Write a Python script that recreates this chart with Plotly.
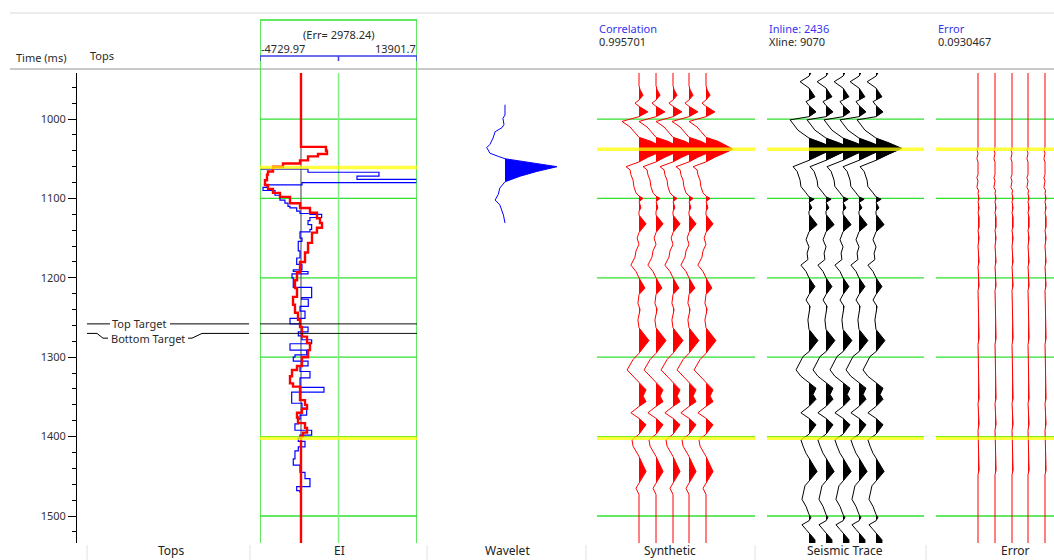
import plotly.graph_objects as go

W, H = 1054, 560
FONT = "Noto Sans"

# ---------------- values ----------------
GRID_TIMES = [1000, 1100, 1200, 1300, 1400, 1500]
TIME_TOP, TIME_BOTTOM = 942, 1534

TOP_NAMES = ["Top Target", "Bottom Target"]
TOP_TIMES = [1258, 1270]

HORIZONS_EI = [1061, 1402]
HORIZONS_TRACE = [1038, 1402]

EI_MIN, EI_MAX = -4729.97, 13901.7
EI_ERR = 2978.24
EI_REF_VALUE = 135
EI_REF_SPAN = [1035, 1400]

# blocked EI curve (time ms, EI)
EI_SMOOTH = [(942, 135), (1035, 3100), (1040, 3220), (1044, 2150), (1047, 970), (1052, 20),
             (1056, -2000), (1060, -3190), (1066, -3780), (1070, -3900), (1077, -4140),
             (1083, -3780), (1088, -3190), (1093, -2360), (1098, -1170), (1106, 20),
             (1112, 1200), (1118, 2030), (1125, 2390), (1131, 2630), (1137, 2030),
             (1143, 1440), (1156, 970), (1168, 610), (1180, 20), (1193, -340), (1203, -580),
             (1213, -340), (1224, -810), (1234, -580), (1244, -220), (1253, 20), (1262, 250),
             (1274, 850), (1282, 1200), (1291, 970), (1300, 250), (1311, -340), (1316, -930),
             (1324, -1170), (1333, -810), (1337, 20), (1354, 610), (1360, 850), (1365, 250),
             (1370, -340), (1376, -220), (1383, 610), (1389, 850), (1395, 370), (1400, 135),
             (1534, 135)]

# raw EI log (time ms, EI)
EI_LOG = [(1063, -4730), (1063, 966), (1067, 9390), (1072, 6780), (1076, 13900), (1080, 254),
          (1083, -3900), (1086, -4370), (1090, -2950), (1096, -2360), (1102, -1770),
          (1106, -1410), (1110, -1170), (1112, -375), (1116, 17), (1119, 1200), (1120, 2590),
          (1124, 1200), (1128, 970), (1133, 1400), (1139, 1200), (1142, 17), (1150, 250),
          (1154, -190), (1166, 17), (1175, -375), (1183, 250), (1190, -780), (1192, 970),
          (1195, -930), (1200, -780), (1212, 1400), (1225, 214), (1227, 1000), (1236, 17),
          (1242, 610), (1251, -1170), (1258, 17), (1262, 970), (1268, -185), (1273, 250),
          (1278, 1400), (1283, -1170), (1291, 810), (1297, -580), (1300, -780), (1305, 970),
          (1311, 17), (1318, 1200), (1326, 17), (1338, 2860), (1344, -970), (1358, 250),
          (1364, 810), (1373, 17), (1378, -185), (1384, -580), (1392, 1400), (1398, 17),
          (1402, -185), (1406, 610), (1413, -185), (1418, -580), (1428, -780), (1436, 17),
          (1445, 610), (1453, 1200), (1463, -375), (1468, 17), (1471, 17)]

# wavelet (lag ms, normalised amplitude)
WAVELET_CENTER = 1060
WAVELET = [(-78, 0), (-65, 0), (-61, -0.04), (-53, -0.02), (-49, -0.06), (-44, -0.19),
           (-36, -0.23), (-28, -0.29), (-24, -0.35), (-17, -0.29), (-13, -0.13), (-10, 0),
           (-5, 0.5), (0, 1.0), (6, 0.61), (12, 0.29), (19, 0), (27, -0.10), (35, -0.13),
           (42, -0.19), (48, -0.10), (55, -0.06), (61, -0.03), (71, 0)]

# synthetic trace (time ms, normalised amplitude)
SYNTHETIC = [(942, 0), (958, 0), (963, 0.04), (970, 0.15), (976, 0), (980, -0.15), (984, 0),
             (991, 0.33), (997, 0), (1003, -0.63), (1010, -0.33), (1018, -0.11), (1023, 0),
             (1028, 0.44), (1033, 0.74), (1038, 1.0), (1043, 0.67), (1048, 0.33), (1054, 0),
             (1060, -0.48), (1064, -0.33), (1070, -0.30), (1077, -0.22), (1085, -0.19),
             (1093, -0.11), (1097, 0), (1100, 0.15), (1104, 0), (1108, 0.04), (1112, 0.07),
             (1116, 0), (1121, 0), (1132, 0.26), (1143, 0), (1150, -0.07), (1158, 0),
             (1166, -0.11), (1174, -0.15), (1184, -0.30), (1192, -0.11), (1200, 0),
             (1213, 0.22), (1221, 0), (1232, -0.04), (1240, 0.04), (1253, -0.04), (1263, 0),
             (1279, 0.37), (1295, 0), (1303, -0.22), (1316, -0.44), (1324, -0.22), (1332, 0),
             (1341, 0.26), (1349, 0.15), (1356, 0.26), (1362, 0), (1370, -0.30), (1377, 0),
             (1385, 0.26), (1397, 0), (1404, -0.26), (1412, -0.22), (1418, -0.11), (1425, 0),
             (1444, 0.26), (1458, 0), (1465, -0.11), (1473, 0), (1534, 0)]

# seismic trace at the well (time ms, normalised amplitude)
SEISMIC = [(942, 0.07), (946, 0), (953, -0.33), (961, 0), (972, 0.22), (976, 0), (978, -0.11),
           (983, 0), (991, 0.26), (997, 0), (1001, -0.70), (1014, -0.41), (1020, -0.15),
           (1024, 0), (1030, 0.48), (1037, 0.96), (1044, 0.48), (1052, 0), (1060, -0.59),
           (1066, -0.44), (1077, -0.33), (1085, -0.30), (1093, -0.11), (1098, 0),
           (1101, 0.19), (1105, 0), (1112, 0.11), (1116, 0), (1120, 0), (1133, 0.30),
           (1142, 0), (1152, -0.11), (1161, 0), (1169, -0.07), (1177, -0.04), (1184, -0.30),
           (1192, -0.11), (1200, 0), (1211, 0.22), (1221, 0), (1228, -0.11), (1236, 0.04),
           (1253, -0.04), (1265, 0), (1279, 0.33), (1293, 0), (1299, -0.22), (1316, -0.48),
           (1324, -0.30), (1332, 0), (1339, 0.26), (1347, 0.15), (1353, 0.26), (1362, 0),
           (1370, -0.30), (1377, 0), (1385, 0.26), (1397, 0), (1404, -0.30), (1412, -0.22),
           (1421, -0.11), (1427, 0), (1444, 0.30), (1456, 0), (1462, -0.15), (1479, -0.26),
           (1488, -0.11), (1498, 0), (1502, 0.07), (1506, 0), (1511, -0.26), (1517, -0.11),
           (1521, 0), (1530, 0.22), (1534, 0.22)]

# residual error trace (time ms, normalised amplitude)
ERROR_TRACE = [(942, 0), (1036, 0), (1039, -0.04), (1043, 0), (1050, -0.04), (1054, 0),
               (1070, 0), (1074, -0.04), (1078, 0), (1086, -0.04), (1090, 0.02), (1094, 0),
               (1100, 0.04), (1104, 0), (1112, 0.04), (1118, 0), (1124, 0.04), (1136, 0.04),
               (1140, 0), (1150, 0.04), (1160, 0), (1180, 0.04), (1186, 0), (1210, 0.04),
               (1216, 0), (1276, 0.04), (1284, 0), (1338, 0.04), (1352, 0.04), (1358, 0),
               (1384, 0.04), (1392, 0), (1442, 0.04), (1448, 0), (1534, 0)]

CORRELATION = "0.995701"
INLINE, XLINE = 2436, 9070
ERROR_VALUE = "0.0930467"
PANEL_TITLES = ["Tops", "EI", "Wavelet", "Synthetic", "Seismic Trace", "Error"]

# ---------------- layout constants (pixels) ----------------
PLOT_TOP, PLOT_BOTTOM = 73, 543
TRACE_OFFSETS = [42, 59, 76, 92, 109]   # wiggle baselines inside a trace panel
TRACE_GAIN = 27                          # px for amplitude 1.0
WAVELET_BASE, WAVELET_GAIN = 77, 52

GREEN = "#2fe02f"
GREEN_LIGHT = "#84ee84"
YELLOW = "rgba(255,255,0,0.75)"
BLUE_TXT = "#3535f0"


def px(x):
    return x / W


def py(y):
    return 1 - y / H


def unzip(pairs):
    return [p[0] for p in pairs], [p[1] for p in pairs]


def positive_lobes(t, a):
    """Outline polygons of the positive parts of a wiggle (amplitude, time)."""
    pts = []
    for i in range(len(t)):
        if i:
            a0, a1 = a[i - 1], a[i]
            if (a0 > 0) != (a1 > 0) and a0 != a1:
                tc = t[i - 1] + (t[i] - t[i - 1]) * a0 / (a0 - a1)
                pts.append((0.0, tc))
        pts.append((max(a[i], 0.0), t[i]))
    xs, ys, run = [], [], []
    last_zero = (0.0, pts[0][1])
    for x, y in pts:
        if x > 0:
            if not run:
                run.append(last_zero)
            run.append((x, y))
        else:
            if run:
                run.append((0.0, y))
                xs += [p[0] for p in run] + [None]
                ys += [p[1] for p in run] + [None]
                run = []
            last_zero = (0.0, y)
    if run:
        run.append((0.0, run[-1][1]))
        xs += [p[0] for p in run]
        ys += [p[1] for p in run]
    return xs, ys


def wiggle(t, a, base, gain, color, xaxis, width=1.0):
    fx, fy = positive_lobes(t, a)
    fill = go.Scatter(x=[None if v is None else base + gain * v for v in fx], y=fy,
                      xaxis=xaxis, yaxis="y", mode="lines", fill="toself",
                      fillcolor=color, line=dict(width=0, color=color), hoverinfo="skip")
    line = go.Scatter(x=[base + gain * v for v in a], y=t, xaxis=xaxis, yaxis="y",
                      mode="lines", line=dict(color=color, width=width), hoverinfo="skip")
    return [fill, line]


fig = go.Figure()

# ---- EI panel ----
fig.add_trace(go.Scatter(x=[EI_REF_VALUE, EI_REF_VALUE], y=EI_REF_SPAN, xaxis="x", yaxis="y",
                         mode="lines", line=dict(color="#606060", width=1.2)))
t, v = unzip(EI_LOG)
fig.add_trace(go.Scatter(x=v, y=t, xaxis="x", yaxis="y", mode="lines",
                         line=dict(color="#0000ff", width=1.2, shape="vh")))
t, v = unzip(EI_SMOOTH)
fig.add_trace(go.Scatter(x=v, y=t, xaxis="x", yaxis="y", mode="lines",
                         line=dict(color="#ff0000", width=2.4, shape="vh")))

# ---- wavelet ----
lag, amp = unzip(WAVELET)
for tr in wiggle([WAVELET_CENTER + l for l in lag], amp, WAVELET_BASE, WAVELET_GAIN,
                 "#0000ff", "x3"):
    fig.add_trace(tr)

# ---- synthetic / seismic / error ----
for series, color, axis in [(SYNTHETIC, "#ff0000", "x4"), (SEISMIC, "#000000", "x5"),
                            (ERROR_TRACE, "#ff0000", "x6")]:
    t, a = unzip(series)
    for off in TRACE_OFFSETS:
        for tr in wiggle(t, a, off, TRACE_GAIN, color, axis):
            fig.add_trace(tr)

# ---- tops labels in Tops panel ----
t_top, t_bot = TOP_TIMES
dip = 6
fig.add_trace(go.Scatter(x=[87, 110, None, 170, 249], y=[t_top, t_top, None, t_top, t_top],
                         xaxis="x2", yaxis="y", mode="lines", line=dict(color="#000", width=1)))
fig.add_trace(go.Scatter(x=[87, 97, 103, 108, None, 188, 192, 202, 249],
                         y=[t_bot, t_bot, t_bot + dip, t_bot + dip, None, t_bot + dip,
                            t_bot + dip, t_bot, t_bot],
                         xaxis="x2", yaxis="y", mode="lines", line=dict(color="#000", width=1)))

shapes = []
annotations = []

# header separators
shapes.append(dict(type="line", xref="paper", yref="paper", x0=px(10), x1=1, y0=py(13), y1=py(13),
                   line=dict(color="#e6e6e6", width=1.5)))
shapes.append(dict(type="line", xref="paper", yref="paper", x0=px(10), x1=1, y0=py(69), y1=py(69),
                   line=dict(color="#c9c9c9", width=2)))

# green grid lines inside the panels
for axis in ["x", "x4", "x5", "x6"]:
    for g in GRID_TIMES:
        shapes.append(dict(type="line", xref=f"{axis} domain", x0=0, x1=1, yref="y", y0=g, y1=g,
                           line=dict(color=GREEN, width=1.3), layer="below"))

# EI frame and middle line
for xv in [EI_MIN, EI_MAX]:
    shapes.append(dict(type="line", xref="x", x0=xv, x1=xv, yref="paper", y0=py(PLOT_BOTTOM),
                       y1=py(20), line=dict(color=GREEN, width=1.5)))
shapes.append(dict(type="line", xref="x", x0=EI_MIN, x1=EI_MAX, yref="paper", y0=py(20),
                   y1=py(20), line=dict(color=GREEN, width=1.5)))
ei_mid = (EI_MIN + EI_MAX) / 2
shapes.append(dict(type="line", xref="x", x0=ei_mid, x1=ei_mid, yref="y domain", y0=0, y1=1,
                   line=dict(color=GREEN_LIGHT, width=1.5), layer="below"))

# EI scale bar in the header
shapes.append(dict(type="line", xref="x", x0=EI_MIN, x1=EI_MAX, yref="paper", y0=py(56), y1=py(56),
                   line=dict(color="#3c3ce8", width=1.5)))
for xv in [EI_MIN, ei_mid, EI_MAX]:
    shapes.append(dict(type="line", xref="x", x0=xv, x1=xv, yref="paper", y0=py(56), y1=py(61),
                       line=dict(color="#3c3ce8", width=1.5)))

# tops across the EI panel
for tt in TOP_TIMES:
    shapes.append(dict(type="line", xref="x domain", x0=0, x1=1, yref="y", y0=tt, y1=tt,
                       line=dict(color="#111", width=1)))

# horizon picks
for axis, hz in [("x", HORIZONS_EI), ("x4", HORIZONS_TRACE), ("x5", HORIZONS_TRACE),
                 ("x6", HORIZONS_TRACE)]:
    for h in hz:
        shapes.append(dict(type="line", xref=f"{axis} domain", x0=0, x1=1, yref="y", y0=h, y1=h,
                           line=dict(color=YELLOW, width=3.6), layer="above"))

# footer separators
for xs in [87, 250, 427, 586, 755, 926]:
    shapes.append(dict(type="line", xref="paper", yref="paper", x0=px(xs), x1=px(xs),
                       y0=py(545), y1=0, line=dict(color="#e2e2e2", width=1)))


def text(x, y, s, color="#2a2a2a", size=11, anchor="left"):
    annotations.append(dict(x=px(x), y=py(y), xref="paper", yref="paper", text=s,
                            showarrow=False, xanchor=anchor, yanchor="middle",
                            font=dict(family=FONT, size=size, color=color)))


text(14, 58, "Time (ms)")
text(88, 56, "Tops")
text(339, 34, f"(Err= {EI_ERR})", anchor="center")
text(259, 48, f"{EI_MIN}")
text(418, 48, f"{EI_MAX}", anchor="right")
text(597, 28, "Correlation", color=BLUE_TXT)
text(597, 42, CORRELATION)
text(767, 28, f"Inline: {INLINE}", color=BLUE_TXT)
text(767, 42, f"Xline: {XLINE}")
text(936, 28, "Error", color=BLUE_TXT)
text(936, 42, ERROR_VALUE)

# top labels (placed on the y axis via time)
for name, tt, xc, dy in [(TOP_NAMES[0], TOP_TIMES[0], 139, 0), (TOP_NAMES[1], TOP_TIMES[1], 148, dip)]:
    annotations.append(dict(x=xc, y=tt + dy, xref="x2", yref="y", text=name, showarrow=False,
                            xanchor="center", yanchor="middle",
                            font=dict(family=FONT, size=11, color="#2a2a2a")))

# panel titles along the bottom edge
for title, xc in zip(PANEL_TITLES, [171, 339, 507, 670, 845, 1015]):
    annotations.append(dict(x=px(xc), y=0, xref="paper", yref="paper", text=title,
                            showarrow=False, xanchor="center", yanchor="bottom", yshift=-1,
                            font=dict(family=FONT, size=12, color="#222")))


def xdom(a, b):
    return [px(a), min(px(b), 1.0)]


hidden = dict(visible=False, anchor="y", fixedrange=True)
fig.update_layout(
    width=W, height=H, margin=dict(l=0, r=0, t=0, b=0),
    paper_bgcolor="white", plot_bgcolor="rgba(0,0,0,0)", showlegend=False,
    xaxis=dict(domain=xdom(260, 417), range=[EI_MIN, EI_MAX], **hidden),
    xaxis2=dict(domain=xdom(87, 249), range=[87, 249], **hidden),
    xaxis3=dict(domain=xdom(428, 586), range=[0, 158], **hidden),
    xaxis4=dict(domain=xdom(597, 755), range=[0, 158], **hidden),
    xaxis5=dict(domain=xdom(767, 924), range=[0, 157], **hidden),
    xaxis6=dict(domain=xdom(936, 1054), range=[0, 118], **hidden),
    yaxis=dict(domain=[py(PLOT_BOTTOM), py(PLOT_TOP)], range=[TIME_BOTTOM, TIME_TOP],
               anchor="free", position=px(76), showline=True, linecolor="#000", linewidth=1,
               ticks="outside", ticklen=8, tickcolor="#000", tickwidth=1, dtick=100, tick0=0,
               minor=dict(dtick=20, tick0=0, ticks="outside", ticklen=4, tickcolor="#000"),
               showgrid=False, zeroline=False, fixedrange=True,
               tickfont=dict(family=FONT, size=11, color="#333")),
    shapes=shapes, annotations=annotations,
)

fig.write_html("out.html")
